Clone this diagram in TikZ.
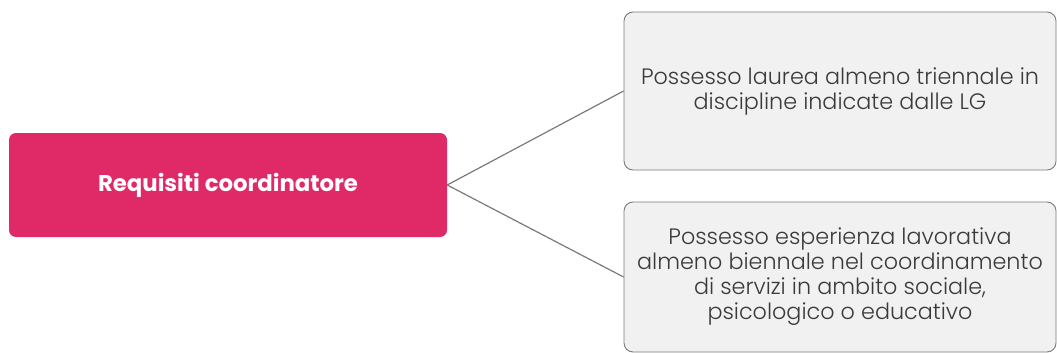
\documentclass[tikz,border=0pt]{standalone}
\usepackage{fontspec}
\setmainfont{Poppins}
\newfontfamily\lightfont{Poppins Light}
\definecolor{pinkbox}{HTML}{E02A67}
\definecolor{greyfill}{HTML}{F1F1F1}
\definecolor{greyline}{HTML}{7A7A7A}
\definecolor{textgrey}{HTML}{3A3A3A}
\begin{document}
\begin{tikzpicture}[x=1pt,y=-1pt,
  mainbox/.style={fill=pinkbox, draw=none, rounded corners=7pt, minimum width=438pt, minimum height=104pt, inner sep=0pt,
    text=white, font=\fontsize{22.8}{26}\selectfont\bfseries},
  reqbox/.style={fill=greyfill, draw=greyline, line width=0.9pt, rounded corners=9pt, minimum width=432pt, inner sep=0pt,
    text=textgrey, align=center, font=\fontsize{22.3}{25}\selectfont\lightfont},
  link/.style={draw=greyline, line width=1.2pt}]
\useasboundingbox (0,0) rectangle (1057,353);
\fill[white] (0,0) rectangle (1057,353);
\node[mainbox] (root) at (228,185) {Requisiti coordinatore};
\node[reqbox, minimum height=158pt] (r1) at (840,91) {Possesso laurea almeno triennale in\\discipline indicate dalle LG};
\node[reqbox, minimum height=150pt] (r2) at (840,277) {Possesso esperienza lavorativa\\almeno biennale nel coordinamento\\di servizi in ambito sociale,\\psicologico o educativo};
\draw[link] (root.east) -- (r1.west);
\draw[link] (root.east) -- (r2.west);
\end{tikzpicture}
\end{document}
